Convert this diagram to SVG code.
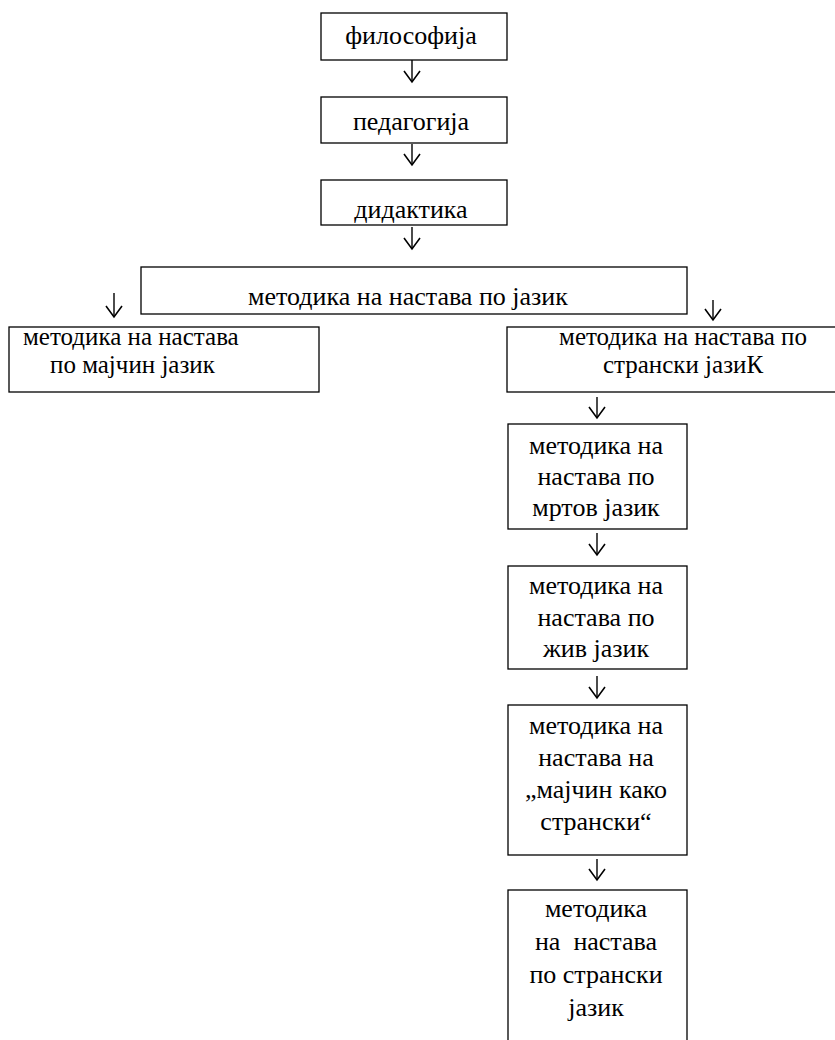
<svg xmlns="http://www.w3.org/2000/svg" width="835" height="1040" viewBox="0 0 835 1040">
<style>
.box{fill:#fff;stroke:#000;stroke-width:1.3}
text{font-family:"Liberation Serif","DejaVu Serif","Times New Roman",serif;font-size:26px;fill:#000}
.t{text-anchor:middle}
.s{font-size:25px}
.c{fill:none;stroke:#000;stroke-width:1.4}
</style>
<defs>
<marker id="v" markerWidth="20" markerHeight="14" refX="9" refY="12" orient="0" markerUnits="userSpaceOnUse">
<path d="M1,1 L9,12 L17,1" fill="none" stroke="#000" stroke-width="1.6"/>
</marker>
</defs>
<g id="n1"><rect class="box" x="321" y="13" width="186" height="47"/><text class="t" x="411" y="44">философија</text></g>
<g id="n2"><rect class="box" x="321" y="97" width="186" height="46"/><text class="t" x="411" y="130">педагогија</text></g>
<g id="n3"><rect class="box" x="321" y="180" width="186" height="45"/><text class="t" x="411" y="218">дидактика</text></g>
<g id="n4"><rect class="box" x="141" y="267" width="546" height="47"/><text class="t" x="408" y="305" font-size="27">методика на настава по јазик</text></g>
<g id="n5"><rect class="box" x="9" y="327" width="310" height="65"/><text class="s" x="23" y="345">методика на настава</text><text class="s" x="50" y="373">по мајчин јазик</text></g>
<g id="n6"><rect class="box" x="507" y="327" width="345" height="65"/><text class="t s" x="683" y="345">методика на настава по</text><text class="t s" x="683" y="373">странски јазиК</text></g>
<g id="n7"><rect class="box" x="508" y="424" width="179" height="105"/><text class="t" x="596" y="454">методика на</text><text class="t" x="596" y="485">настава по</text><text class="t" x="596" y="516">мртов јазик</text></g>
<g id="n8"><rect class="box" x="508" y="566" width="179" height="103"/><text class="t" x="596" y="594">методика на</text><text class="t" x="596" y="626">настава по</text><text class="t" x="596" y="657">жив јазик</text></g>
<g id="n9"><rect class="box" x="508" y="705" width="179" height="150"/><text class="t" x="596" y="734">методика на</text><text class="t" x="596" y="766">настава на</text><text class="t" x="596" y="798">„мајчин како</text><text class="t" x="596" y="830">странски“</text></g>
<g id="n10"><rect class="box" x="508" y="890" width="179" height="152"/><text class="t" x="596" y="917">методика</text><text class="t" x="596" y="950" style="white-space:pre">на  настава</text><text class="t" x="596" y="983">по странски</text><text class="t" x="596" y="1016">јазик</text></g>
<g id="connectors">
<path class="c" d="M412,60 V82" marker-end="url(#v)"/>
<path class="c" d="M412,144 V165" marker-end="url(#v)"/>
<path class="c" d="M412,227 V249" marker-end="url(#v)"/>
<path class="c" d="M114,293 V317" marker-end="url(#v)"/>
<path class="c" d="M713,300 V320" marker-end="url(#v)"/>
<path class="c" d="M597,397 V418" marker-end="url(#v)"/>
<path class="c" d="M597,533 V555" marker-end="url(#v)"/>
<path class="c" d="M597,676 V698" marker-end="url(#v)"/>
<path class="c" d="M597,859 V880" marker-end="url(#v)"/>
</g>
</svg>
